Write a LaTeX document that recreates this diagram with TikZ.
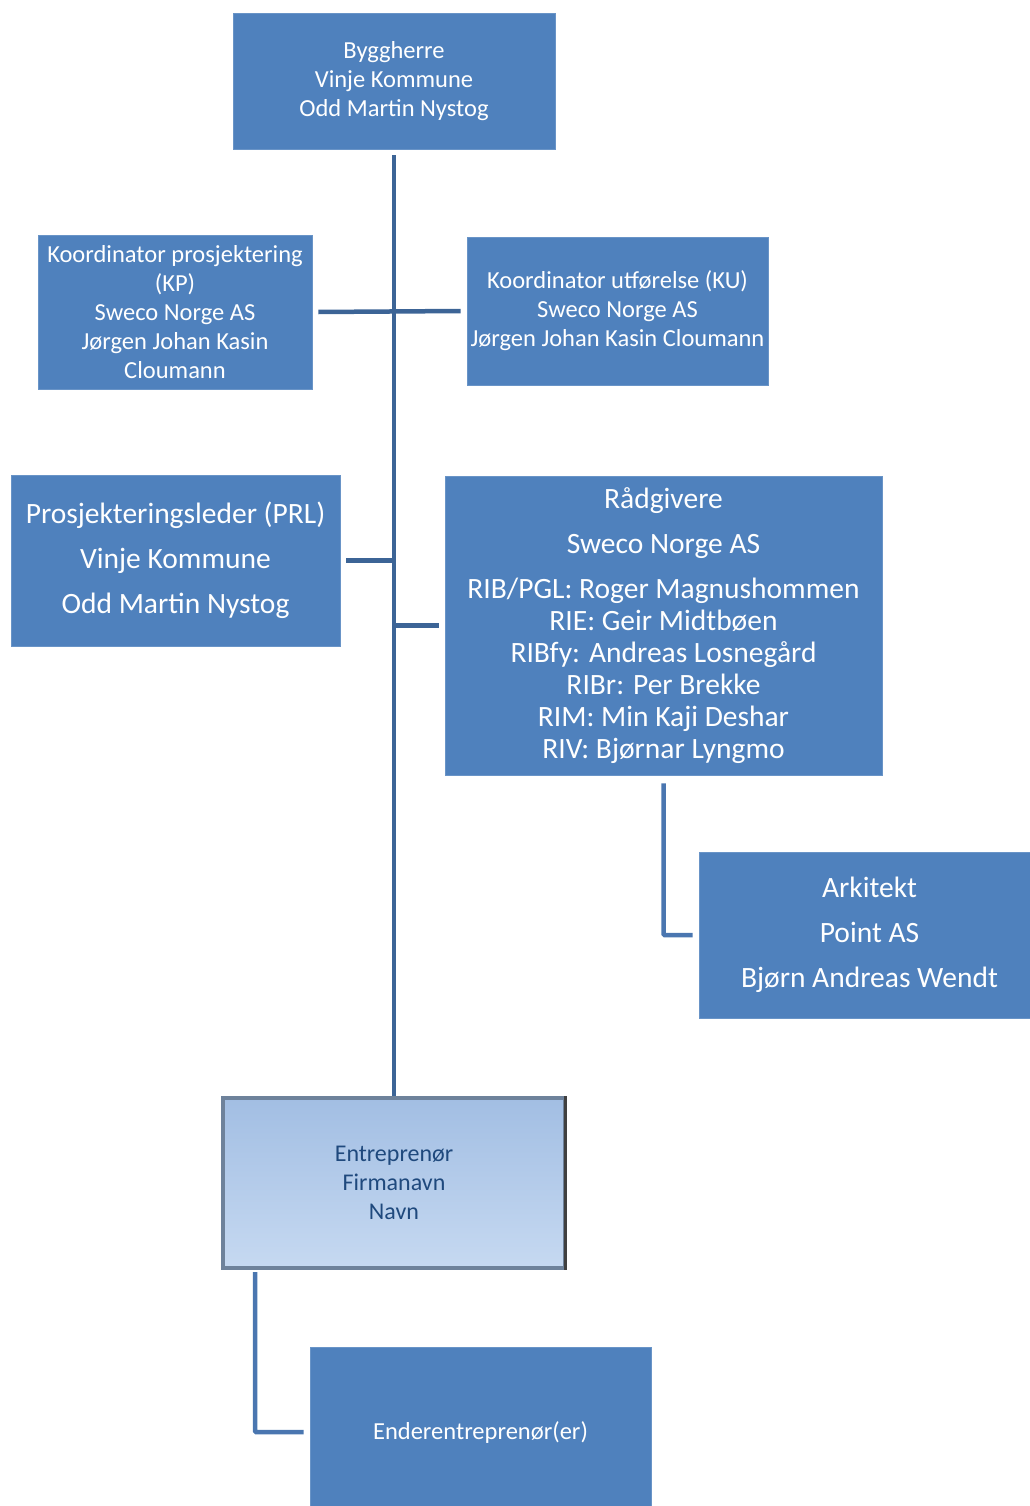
\documentclass[tikz,border=0pt]{standalone}
\usepackage{fontspec}
\setmainfont{Carlito}
\usepackage{xcolor}
\usetikzlibrary{positioning, calc, shadows}

\definecolor{boxblue}{RGB}{79,129,189}
\definecolor{lineblue}{RGB}{60,100,150}
\definecolor{elbowblue}{RGB}{74,118,176}
\definecolor{darktext}{RGB}{31,73,125}
\definecolor{shadetop}{RGB}{162,190,227}
\definecolor{shadebot}{RGB}{198,217,241}
\definecolor{bevel}{RGB}{110,130,155}

\begin{document}
\begin{tikzpicture}[
    x=1pt, y=-1pt,
    box/.style={rectangle, fill=boxblue, draw=boxblue!85!white, line width=0.8pt, align=center, text=white, inner sep=0pt},
    small/.style={box, font=\fontsize{24.5}{29}\selectfont},
    large/.style={box, font=\fontsize{29.5}{45}\selectfont},
    link/.style={draw=lineblue, line width=4.5pt},
    elbow/.style={draw=elbowblue, line width=4.5pt, rounded corners=1pt},
    firm/.style={rectangle, top color=shadetop, bottom color=shadebot, draw=bevel, line width=4pt, align=center, text=darktext, inner sep=0pt, font=\fontsize{24}{29}\selectfont, drop shadow={shadow xshift=2pt, shadow yshift=-2pt, opacity=0.3}}
]
\useasboundingbox (0,0) rectangle (1029,1506);

\node[small, minimum width=322, minimum height=136] (bygg) at (394,81) {Byggherre\\Vinje Kommune\\Odd Martin Nystog};

\node[small, minimum width=274, minimum height=154] (kp) at (175,312) {Koordinator prosjektering\\(KP)\\Sweco Norge AS\\Jørgen Johan Kasin\\Cloumann};
\node[small, minimum width=301, minimum height=148] (ku) at (617.5,311) {Koordinator utførelse (KU)\\Sweco Norge AS\\Jørgen Johan Kasin Cloumann};

\node[large, minimum width=329, minimum height=171] (prl) at (175.5,560.5) {Prosjekteringsleder (PRL)\\Vinje Kommune\\Odd Martin Nystog};
\node[large, minimum width=437, minimum height=299] (raad) at (663.5,625.5) {Rådgivere\\Sweco Norge AS\\RIB/PGL: Roger Magnushommen\\[-13pt]RIE: Geir Midtbøen\\[-13pt]RIBfy: Andreas Losnegård\\[-13pt]RIBr: Per Brekke\\[-13pt]RIM: Min Kaji Deshar\\[-13pt]RIV: Bjørnar Lyngmo};

\node[large, minimum width=341, minimum height=166] (ark) at (869.5,935) {Arkitekt\\Point AS\\Bjørn Andreas Wendt};

\node[firm, minimum width=342, minimum height=170] (entr) at (394,1183) {Entreprenør\\Firmanavn\\Navn};
\draw[black!75, line width=3pt] ([xshift=-1.5]entr.north east) -- ([xshift=-1.5]entr.south east);

\node[small, minimum width=341, minimum height=170] (ender) at (480.5,1432) {Enderentreprenør(er)};

% connectors
\draw[link] ([yshift=-6]bygg.south) -- (entr.north);
\draw[link] ([xshift=6]kp.east) -- ([xshift=-6]ku.west);
\draw[link] ([xshift=6]prl.east) -- (prl.east -| bygg.south);
\draw[link] (raad.west -| bygg.south) -- ([xshift=-6]raad.west);
\draw[elbow] ([yshift=-8]raad.south) |- ([xshift=-6]ark.west);
\draw[elbow] ([xshift=-139,yshift=-2]entr.south) |- ([xshift=-6]ender.west);

\end{tikzpicture}
\end{document}
